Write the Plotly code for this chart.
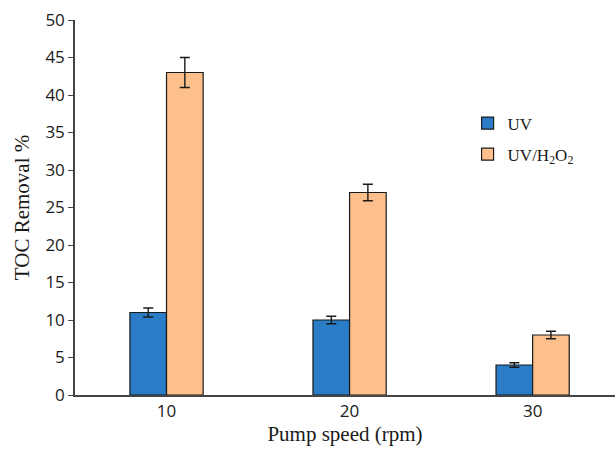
import plotly.graph_objects as go

categories = ["10", "20", "30"]
uv = [11, 10, 4]
uv_err = [0.6, 0.5, 0.3]
uvh2o2 = [43, 27, 8]
uvh2o2_err = [2.0, 1.1, 0.5]

xpos = list(range(len(categories)))

fig = go.Figure()
fig.add_trace(go.Bar(
    x=xpos, y=uv, name="UV", legendgroup="a",
    marker=dict(color="#2a7cc7", line=dict(color="#1a1a1a", width=1.2)),
    error_y=dict(type="data", array=uv_err, color="#1a1a1a", thickness=1.4, width=5),
))
fig.add_trace(go.Bar(
    x=xpos, y=uvh2o2, name="UV/H<sub>2</sub>O<sub>2</sub>", legendgroup="b",
    marker=dict(color="#fdc08c", line=dict(color="#1a1a1a", width=1.2)),
    error_y=dict(type="data", array=uvh2o2_err, color="#1a1a1a", thickness=1.4, width=5),
))

fig.update_layout(
    width=615, height=449,
    margin=dict(l=75, r=0, t=20, b=54),
    paper_bgcolor="white", plot_bgcolor="white",
    barmode="group", bargap=0.6, bargroupgap=0,
    showlegend=True,
    legend=dict(x=0.727, y=0.772, xanchor="left", yanchor="top",
                font=dict(family="Liberation Serif", size=17, color="#1a1a1a"),
                itemwidth=30,
                tracegroupgap=6, bgcolor="rgba(0,0,0,0)"),
    xaxis=dict(
        range=[-0.5, 2.45], tickmode="array", tickvals=xpos, ticktext=categories,
        showline=True, linecolor="#444", linewidth=1.5, ticks="",
        showgrid=False, zeroline=False, automargin=False,
        tickfont=dict(family="Open Sans", size=17, color="#1a1a1a"),
        title=dict(text="Pump speed (rpm)", font=dict(family="Liberation Serif", size=21, color="#1a1a1a"), standoff=2),
    ),
    yaxis=dict(
        range=[0, 50], dtick=5, showline=True, linecolor="#444", linewidth=1.5,
        ticks="outside", ticklen=5, tickcolor="#444",
        showgrid=False, zeroline=False, automargin=False,
        tickfont=dict(family="Open Sans", size=17, color="#1a1a1a"),
        title=dict(text="TOC Removal %", font=dict(family="Liberation Serif", size=21, color="#1a1a1a"), standoff=10),
    ),
)

fig.write_html("out.html", config={"displayModeBar": False},
               post_script="document.body.style.margin='0px';document.body.style.overflow='hidden';")
